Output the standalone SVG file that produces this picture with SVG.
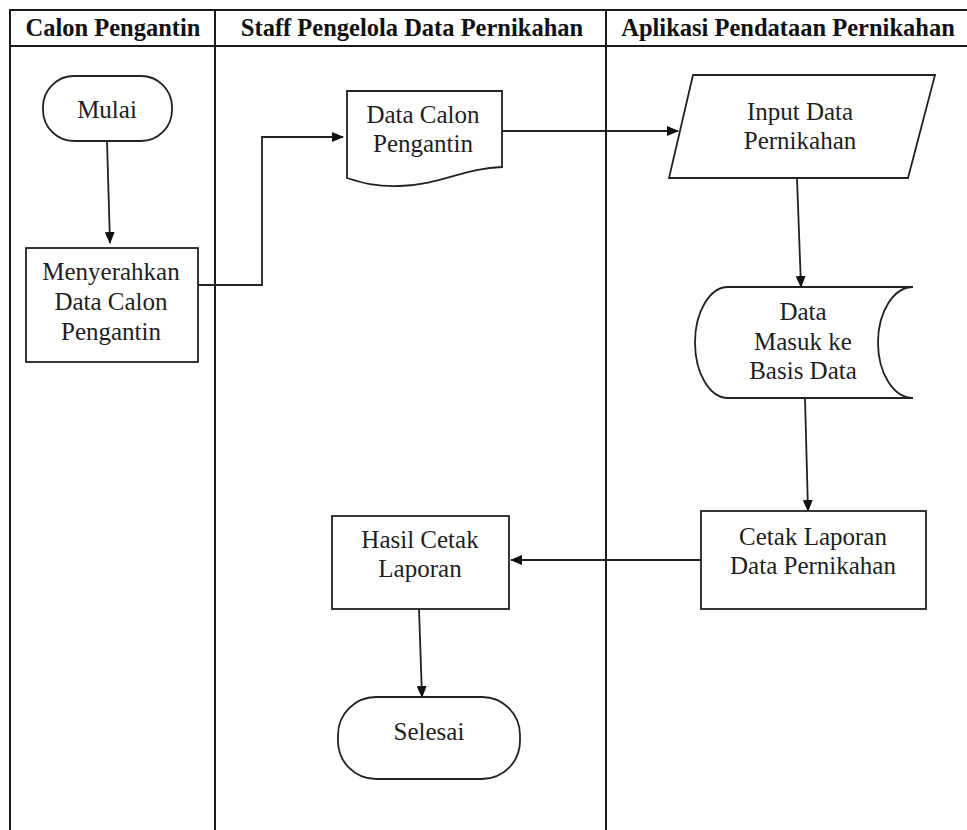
<svg xmlns="http://www.w3.org/2000/svg" width="967" height="830" viewBox="0 0 967 830">
<defs>
<marker id="ah" markerWidth="12" markerHeight="10" refX="11" refY="5" orient="auto" markerUnits="userSpaceOnUse">
<path d="M0,0 L12,5 L0,10 Z" fill="#111"/>
</marker>
<style>
text{font-family:"Liberation Serif","DejaVu Serif",serif}
.grid{stroke:#1a1a1a;stroke-width:2;fill:none}
.shape{stroke:#222;stroke-width:1.8;fill:#fff}
.conn{stroke:#222;stroke-width:1.8;fill:none;marker-end:url(#ah)}
.hd{font-weight:bold;font-size:24.5px;fill:#111;text-anchor:middle}
.t{font-size:25px;fill:#1e1e1e;text-anchor:middle}
</style>
</defs>
<rect width="967" height="830" fill="#fff"/>
<g id="table">
<line class="grid" x1="10" y1="9" x2="10" y2="830"/>
<line class="grid" x1="215" y1="9" x2="215" y2="830"/>
<line class="grid" x1="606" y1="9" x2="606" y2="830"/>
<line class="grid" x1="9" y1="10" x2="967" y2="10"/>
<line class="grid" x1="9" y1="46" x2="967" y2="46"/>
<text class="hd" x="113" y="36">Calon Pengantin</text>
<text class="hd" x="412" y="36">Staff Pengelola Data Pernikahan</text>
<text class="hd" x="788" y="36">Aplikasi Pendataan Pernikahan</text>
</g>
<g id="connectors">
<line class="conn" x1="107" y1="141" x2="110" y2="243"/>
<polyline class="conn" points="198,285 262,285 262,137 343,137"/>
<line class="conn" x1="502" y1="131" x2="678" y2="131"/>
<line class="conn" x1="797" y1="178" x2="801" y2="287"/>
<line class="conn" x1="805" y1="398" x2="808" y2="511"/>
<line class="conn" x1="701" y1="560" x2="511" y2="560"/>
<line class="conn" x1="419" y1="609" x2="422" y2="697"/>
</g>
<g id="mulai">
<rect class="shape" x="43" y="76" width="129" height="65" rx="31" ry="31"/>
<text class="t" x="107" y="118">Mulai</text>
</g>
<g id="menyerahkan">
<rect class="shape" x="26" y="248" width="172" height="114"/>
<text class="t" x="111" y="280">Menyerahkan</text>
<text class="t" x="111" y="310">Data Calon</text>
<text class="t" x="111" y="340">Pengantin</text>
</g>
<g id="data-calon">
<path class="shape" d="M347,91 L502,91 L502,167 C465,168 440,185 400,186 C375,187 360,182 347,178 Z"/>
<text class="t" x="423" y="123">Data Calon</text>
<text class="t" x="423" y="152">Pengantin</text>
</g>
<g id="input-data">
<path class="shape" d="M693,75 L935,75 L908,178 L669,178 Z"/>
<text class="t" x="800" y="120">Input Data</text>
<text class="t" x="800" y="149">Pernikahan</text>
</g>
<g id="basis-data">
<path class="shape" d="M728,287 L913,287 A35,55.5 0 0 0 913,398 L728,398 A33,55.5 0 0 1 728,287 Z"/>
<text class="t" x="803" y="320">Data</text>
<text class="t" x="803" y="350">Masuk ke</text>
<text class="t" x="803" y="379">Basis Data</text>
</g>
<g id="cetak-laporan">
<rect class="shape" x="701" y="511" width="225" height="98"/>
<text class="t" x="813" y="545">Cetak Laporan</text>
<text class="t" x="813" y="574">Data Pernikahan</text>
</g>
<g id="hasil-cetak">
<rect class="shape" x="332" y="516" width="177" height="93"/>
<text class="t" x="420" y="548">Hasil Cetak</text>
<text class="t" x="420" y="577">Laporan</text>
</g>
<g id="selesai">
<rect class="shape" x="338" y="697" width="182" height="82" rx="38" ry="38"/>
<text class="t" x="429" y="740">Selesai</text>
</g>
</svg>
